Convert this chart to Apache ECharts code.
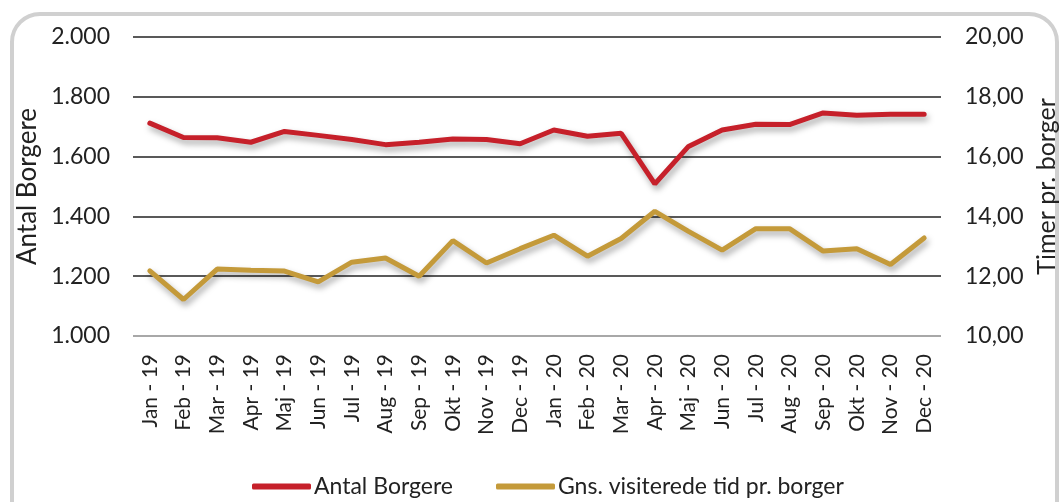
<!DOCTYPE html>
<html>
<head>
<meta charset="utf-8">
<script src="https://cdn.jsdelivr.net/npm/echarts@6/dist/echarts.min.js"></script>
<style>
    html, body { margin: 0; padding: 0; background: #fff; }
    #wrap {
        position: absolute; left: 10px; top: 12px; width: 1049px; height: 530px;
        border: 4px solid #d0d0d0; border-radius: 30px; box-sizing: border-box;
    }
    #chart { position: absolute; left: 0; top: 0; width: 1062px; height: 502px; }
</style>
</head>
<body>
<div id="wrap"></div>
<div id="chart"></div>
<script>
var months = ['Jan - 19', 'Feb - 19', 'Mar - 19', 'Apr - 19', 'Maj - 19', 'Jun - 19',
    'Jul - 19', 'Aug - 19', 'Sep - 19', 'Okt - 19', 'Nov - 19', 'Dec - 19',
    'Jan - 20', 'Feb - 20', 'Mar - 20', 'Apr - 20', 'Maj - 20', 'Jun - 20',
    'Jul - 20', 'Aug - 20', 'Sep - 20', 'Okt - 20', 'Nov - 20', 'Dec - 20'];

var antal_borgere = [1712, 1664, 1663, 1648, 1684, 1671, 1657, 1640, 1648, 1659, 1657, 1643,
    1689, 1668, 1678, 1509, 1634, 1689, 1708, 1707, 1746, 1738, 1742, 1742];

var visit_tid = [12.18, 11.22, 12.24, 12.2, 12.17, 11.81, 12.47, 12.61, 12.0, 13.19, 12.44, 12.92,
    13.37, 12.67, 13.26, 14.17, 13.5, 12.87, 13.59, 13.59, 12.84, 12.92, 12.39, 13.28];

var left_ticks = [1000, 2000, 200];
var right_ticks = [10, 20, 2];

var font = 'Lato, "Open Sans", sans-serif';
var shadow = {
    shadowColor: 'rgba(0,0,0,0.35)',
    shadowBlur: 6,
    shadowOffsetX: 2,
    shadowOffsetY: 4
};

var chart = echarts.init(document.getElementById('chart'));
chart.setOption({
    animation: false,
    textStyle: { fontFamily: font },
    grid: {
        left: 133, right: 121, top: 37, bottom: 166,
        containLabel: false,
        outerBoundsMode: 'none'
    },
    legend: {
        top: 470,
        left: 247,
        itemWidth: 59,
        itemHeight: 6,
        itemGap: 43,
        icon: 'roundRect',
        textStyle: { fontSize: 23, color: '#222', padding: [0, 0, 0, -2] },
        data: ['Antal Borgere', 'Gns. visiterede tid pr. borger']
    },
    xAxis: {
        type: 'category',
        data: months,
        boundaryGap: true,
        axisLine: { show: false },
        axisTick: { show: false },
        axisLabel: { rotate: 90, fontSize: 21, color: '#222', margin: 18 }
    },
    yAxis: [{
        type: 'value',
        min: left_ticks[0],
        max: left_ticks[1],
        interval: left_ticks[2],
        name: 'Antal Borgere',
        nameLocation: 'middle',
        nameGap: 86,
        nameTextStyle: { fontSize: 26, color: '#222' },
        axisLine: { show: false },
        axisTick: { show: false },
        axisLabel: {
            fontSize: 23, color: '#222', margin: 23,
            formatter: function (v) { return (v / 1000).toFixed(3); }
        },
        splitLine: { lineStyle: { color: '#222', width: 1.5 } }
    }, {
        type: 'value',
        min: right_ticks[0],
        max: right_ticks[1],
        interval: right_ticks[2],
        name: 'Timer pr. borger',
        nameLocation: 'middle',
        nameGap: 91,
        nameRotate: 90,
        nameTextStyle: { fontSize: 25, color: '#222' },
        axisLine: { show: false },
        axisTick: { show: false },
        axisLabel: {
            fontSize: 23, color: '#222', margin: 24,
            formatter: function (v) { return v.toFixed(2).replace('.', ','); }
        },
        splitLine: { show: false }
    }],
    series: [{
        name: 'Antal Borgere',
        type: 'line',
        yAxisIndex: 0,
        data: antal_borgere,
        symbol: 'none',
        itemStyle: { color: '#c6202a' },
        lineStyle: Object.assign({ color: '#c6202a', width: 5, cap: 'round' }, shadow),
        markLine: {
            silent: true,
            symbol: 'none',
            label: { show: false },
            lineStyle: { color: '#a8a8a8', width: 2, type: 'solid' },
            data: [{ yAxis: 1000 }]
        }
    }, {
        name: 'Gns. visiterede tid pr. borger',
        type: 'line',
        yAxisIndex: 1,
        data: visit_tid,
        symbol: 'none',
        itemStyle: { color: '#c49a3a' },
        lineStyle: Object.assign({ color: '#c49a3a', width: 5, cap: 'round' }, shadow)
    }]
});
</script>
</body>
</html>
